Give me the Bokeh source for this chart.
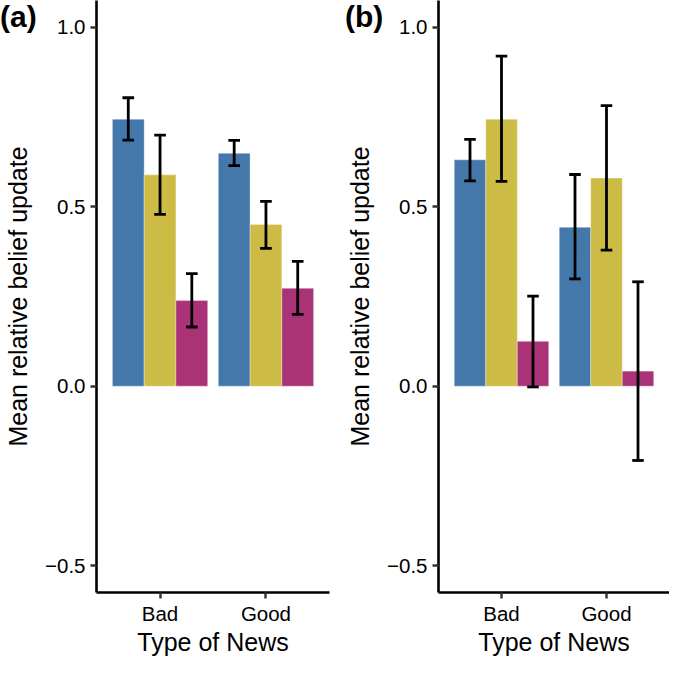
from bokeh.plotting import figure
from bokeh.layouts import row, column
from bokeh.models import Range1d, FixedTicker, ColumnDataSource, Div
from bokeh.embed import file_html
from bokeh.resources import INLINE

# ---- data ----
categories = ["Bad", "Good"]
series_names = ["Group 1", "Group 2", "Group 3"]
series_colors = ["#4477AA", "#CCBB44", "#AA3377"]

# Panel (a): mean, lower, upper per category (Bad, Good)
a_g1_mean = [0.744, 0.649]
a_g1_lo = [0.686, 0.615]
a_g1_hi = [0.804, 0.685]
a_g2_mean = [0.589, 0.451]
a_g2_lo = [0.479, 0.384]
a_g2_hi = [0.700, 0.515]
a_g3_mean = [0.239, 0.273]
a_g3_lo = [0.165, 0.200]
a_g3_hi = [0.314, 0.348]

# Panel (b)
b_g1_mean = [0.631, 0.443]
b_g1_lo = [0.572, 0.299]
b_g1_hi = [0.688, 0.590]
b_g2_mean = [0.744, 0.580]
b_g2_lo = [0.571, 0.379]
b_g2_hi = [0.920, 0.782]
b_g3_mean = [0.125, 0.042]
b_g3_lo = [-0.002, -0.207]
b_g3_hi = [0.251, 0.291]

y_ticks = [-0.5, 0.0, 0.5, 1.0]
y_tick_labels = ["\u22120.5", "0.0", "0.5", "1.0"]

FONT = "Liberation Sans"
FIG_H = 658
TAG_H = 36


def make_panel(tag, means, los, his, width, border_left, border_right, tag_left):
    p = figure(width=width, height=FIG_H, output_backend="svg", toolbar_location=None,
               x_range=Range1d(0.4, 2.6), y_range=Range1d(-0.575, 1.075),
               min_border_left=border_left, min_border_right=border_right,
               min_border_top=0, min_border_bottom=0)
    p.background_fill_color = "white"
    p.border_fill_color = None
    p.outline_line_color = None
    p.grid.grid_line_color = None

    n = len(series_names)
    bw = 0.9 / n
    for j in range(n):
        xs = [i + 1 - 0.45 + bw * (j + 0.5) for i in range(len(categories))]
        src = ColumnDataSource(dict(x=xs, top=means[j], lo=los[j], hi=his[j],
                                    x0=[x - 0.055 for x in xs], x1=[x + 0.055 for x in xs]))
        p.vbar(x="x", top="top", bottom=0, width=bw, source=src,
               fill_color=series_colors[j], line_color="white", line_alpha=0.35, line_width=1)
        p.segment(x0="x", x1="x", y0="lo", y1="hi", source=src, line_color="black",
                  line_width=2.8, line_cap="butt")
        p.segment(x0="x0", x1="x1", y0="lo", y1="lo", source=src, line_color="black",
                  line_width=2.8, line_cap="butt")
        p.segment(x0="x0", x1="x1", y0="hi", y1="hi", source=src, line_color="black",
                  line_width=2.8, line_cap="butt")

    p.xaxis.ticker = FixedTicker(ticks=list(range(1, len(categories) + 1)))
    p.xaxis.major_label_overrides = {i + 1: c for i, c in enumerate(categories)}
    p.yaxis.ticker = FixedTicker(ticks=y_ticks)
    p.yaxis.major_label_overrides = {t: l for t, l in zip(y_ticks, y_tick_labels)}

    for ax in (p.xaxis, p.yaxis):
        ax.axis_line_color = "black"
        ax.axis_line_width = 2.6
        ax.major_tick_line_color = "#333333"
        ax.major_tick_line_width = 2.4
        ax.major_tick_out = 6
        ax.major_tick_in = 0
        ax.minor_tick_line_color = None
        ax.major_label_text_font = FONT
        ax.major_label_text_font_size = "20.5px"
        ax.major_label_text_color = "black"
        ax.axis_label_text_font = FONT
        ax.axis_label_text_font_size = "25px"
        ax.axis_label_text_font_style = "normal"
        ax.axis_label_text_color = "black"
    p.xaxis.axis_label = "Type of News"
    p.yaxis.axis_label = "Mean relative belief update"
    p.xaxis.major_label_standoff = 3
    p.xaxis.axis_label_standoff = 0
    p.yaxis.major_label_standoff = 5
    p.yaxis.axis_label_standoff = 10

    tag_div = Div(text=tag, width=50, height=TAG_H, margin=(0, 0, -TAG_H, tag_left),
                  styles={"font-family": FONT, "font-size": "30px", "font-weight": "bold",
                          "line-height": "1.1", "color": "black", "z-index": "5"})
    return column(tag_div, p, spacing=0)


pa = make_panel("(a)", [a_g1_mean, a_g2_mean, a_g3_mean], [a_g1_lo, a_g2_lo, a_g3_lo],
                [a_g1_hi, a_g2_hi, a_g3_hi], 334, 96, 5, 0)
pb = make_panel("(b)", [b_g1_mean, b_g2_mean, b_g3_mean], [b_g1_lo, b_g2_lo, b_g3_lo],
                [b_g1_hi, b_g2_hi, b_g3_hi], 335, 104, 0, 11)

layout = row(pa, pb, spacing=0)
open("out.html", "w").write(file_html(layout, INLINE))
